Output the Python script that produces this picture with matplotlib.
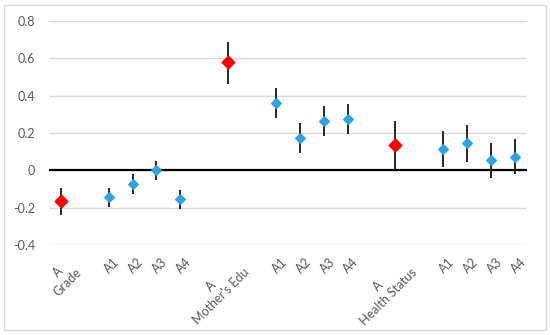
import numpy as np
import matplotlib.pyplot as plt
import matplotlib.transforms as mtransforms

plt.rcParams['font.family'] = ['Lato', 'DejaVu Sans']

# category slots (empty strings are spacer slots)
labels = ["A\nGrade", "", "A1", "A2", "A3", "A4", "",
          "A\nMother's Edu", "", "A1", "A2", "A3", "A4", "",
          "A\nHealth Status", "", "A1", "A2", "A3", "A4"]
nan = np.nan
estimate = [-0.165, nan, -0.145, -0.073, 0.0, -0.152, nan,
            0.579, nan, 0.361, 0.175, 0.264, 0.277, nan,
            0.134, nan, 0.113, 0.148, 0.055, 0.071]
upper = [-0.093, nan, -0.093, -0.018, 0.05, -0.106, nan,
         0.69, nan, 0.443, 0.256, 0.345, 0.358, nan,
         0.264, nan, 0.211, 0.243, 0.148, 0.166]
lower = [-0.24, nan, -0.197, -0.125, -0.05, -0.205, nan,
         0.465, nan, 0.283, 0.091, 0.184, 0.193, nan,
         0.0, nan, 0.015, 0.047, -0.04, -0.02]

x = np.arange(len(labels))
est = np.array(estimate)
up = np.array(upper)
lo = np.array(lower)
is_main = np.array([l.startswith("A\n") for l in labels])
is_sub = ~is_main & ~np.isnan(est)

fig = plt.figure(figsize=(5.5, 3.35), dpi=100)
ax = fig.add_axes([0.089, 0.269, 0.869, 0.668])

ax.set_ylim(-0.4, 0.8)
ax.set_xlim(-0.5, len(labels) - 0.5)
ax.set_yticks([-0.4, -0.2, 0, 0.2, 0.4, 0.6, 0.8])
ax.set_yticklabels(["-0.4", "-0.2", "0", "0.2", "0.4", "0.6", "0.8"])
ax.yaxis.grid(True, color='#d9d9d9', linewidth=1)
ax.set_axisbelow(True)
ax.axhline(0, color='black', linewidth=1.6, zorder=1)

ax.vlines(x, lo, up, color='#262626', linewidth=1.4, zorder=2)
ax.scatter(x[is_main], est[is_main], marker='D', s=42, color='#ff0000', zorder=3)
ax.scatter(x[is_sub], est[is_sub], marker='D', s=24, color='#2ea3e0', zorder=3)

ax.set_xticks(x)
ax.set_xticklabels([])
ax.tick_params(axis='both', length=0, labelsize=9, colors='#595959')
ax.tick_params(axis='y', pad=10)

# rotated category labels (45 deg, two-line group labels centred)
trans = mtransforms.blended_transform_factory(ax.transData, ax.transAxes)
for xi, lab in zip(x, labels):
    if lab:
        ax.text(xi + 0.2, -0.05, lab, transform=trans, rotation=45,
                rotation_mode='anchor', ha='right', va='top',
                multialignment='center', fontsize=9, color='#595959')
for s in ax.spines.values():
    s.set_visible(False)

# chart border
fig.patches.append(plt.Rectangle((0.008, 0.015), 0.984, 0.97, transform=fig.transFigure,
                                 fill=False, edgecolor='#d9d9d9', linewidth=1))

fig.savefig("out.png", dpi=100)
